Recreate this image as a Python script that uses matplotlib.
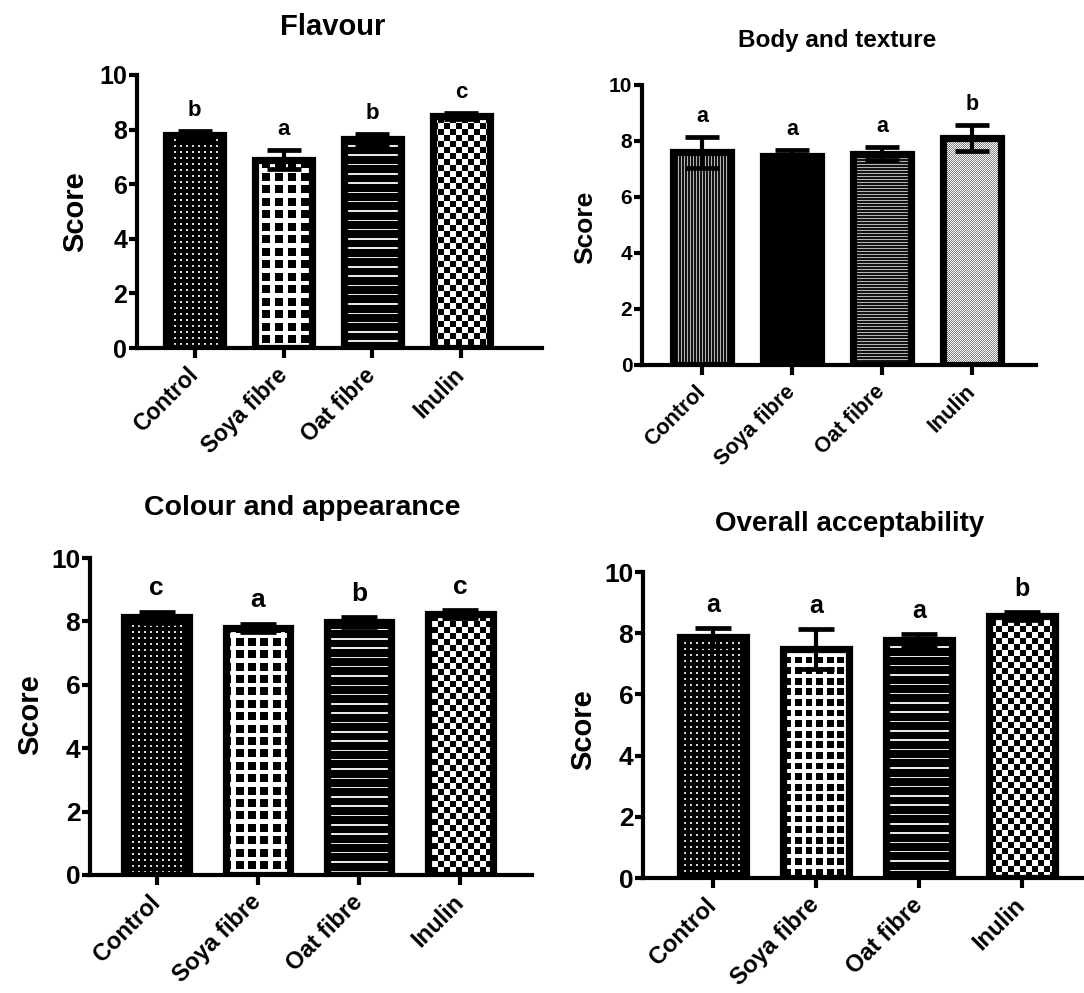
import numpy as np
import matplotlib
matplotlib.use('Agg')
import matplotlib.pyplot as plt

plt.rcParams['font.family'] = ['Liberation Sans', 'DejaVu Sans']
plt.rcParams['font.weight'] = 'bold'

# ---------------- data ----------------
categories = ['Control', 'Soya fibre', 'Oat fibre', 'Inulin']
y_ticks = [0, 2, 4, 6, 8, 10]

flavour_mean = [7.8, 6.9, 7.65, 8.5]
flavour_err = [0.15, 0.35, 0.2, 0.1]
flavour_letters = ['b', 'a', 'b', 'c']

body_mean = [7.6, 7.47, 7.55, 8.1]
body_err = [0.55, 0.2, 0.22, 0.47]
body_letters = ['a', 'a', 'a', 'b']

colour_mean = [8.13, 7.79, 7.97, 8.23]
colour_err = [0.17, 0.14, 0.16, 0.12]
colour_letters = ['c', 'a', 'b', 'c']

overall_mean = [7.87, 7.48, 7.77, 8.56]
overall_err = [0.3, 0.65, 0.2, 0.13]
overall_letters = ['a', 'a', 'a', 'b']

W, H = 1084, 993
DPI = 100
fig = plt.figure(figsize=(W / DPI, H / DPI), dpi=DPI)


def make_pattern(kind, X, Y, period):
    if kind == 'dots':
        m = (np.mod(X, 6) < 1.6) & (np.mod(Y, 6) < 1.6)
        return np.where(m, 0.85, 0.0)
    if kind == 'grid':
        m = (np.mod(X, period) < period * 0.64) & (np.mod(Y, period) < period * 0.64)
        return np.where(m, 0.0, 1.0)
    if kind == 'hlines':
        return np.where(np.mod(Y, 9.3) < 1.5, 0.9, 0.0)
    if kind == 'checker':
        return np.where((np.floor(X / 6) + np.floor(Y / 6)) % 2 == 0, 0.0, 1.0)
    if kind == 'vfine':
        return np.where(np.mod(np.floor(X), 3) == 0, 0.7, 0.08)
    if kind == 'hfine':
        return np.where(np.mod(np.floor(Y), 3) == 0, 0.7, 0.08)
    if kind == 'solid':
        return np.zeros_like(X)
    if kind == 'lightdots':
        return np.where((np.floor(X) + np.floor(Y)) % 2 == 0, 1.0, 0.5)
    return np.ones_like(X)


panels = [
    dict(title='Flavour', mean=flavour_mean, err=flavour_err, letters=flavour_letters,
         rect=(137, 75, 542, 348), xlim=(-0.65, 3.91), title_xy=(333, 27), title_fs=21,
         tick_fs=18, xtick_fs=16.5, label_fs=21, letter_fs=16, score_xy=(75, 212),
         patterns=['dots', 'grid', 'hlines', 'checker'], grid_p=12.5, capsize=12),
    dict(title='Body and texture', mean=body_mean, err=body_err, letters=body_letters,
         rect=(642, 85, 1036, 365), xlim=(-0.67, 3.71), title_xy=(837, 40), title_fs=17.5,
         tick_fs=15, xtick_fs=15.5, label_fs=19, letter_fs=15.5, score_xy=(585, 227),
         patterns=['vfine', 'solid', 'hfine', 'lightdots'], grid_p=12.5, capsize=12),
    dict(title='Colour and appearance', mean=colour_mean, err=colour_err, letters=colour_letters,
         rect=(90, 558, 532, 875), xlim=(-0.66, 3.71), title_xy=(302, 508), title_fs=20.5,
         tick_fs=19, xtick_fs=17, label_fs=21, letter_fs=19, score_xy=(30, 715),
         patterns=['dots', 'grid', 'hlines', 'checker'], grid_p=12.4, capsize=13),
    dict(title='Overall acceptability', mean=overall_mean, err=overall_err, letters=overall_letters,
         rect=(643, 572, 1099, 878), xlim=(-0.68, 3.75), title_xy=(850, 524), title_fs=20,
         tick_fs=19, xtick_fs=17, label_fs=21, letter_fs=18, score_xy=(583, 730),
         patterns=['dots', 'grid', 'hlines', 'checker'], grid_p=10.6, capsize=13),
]

bar_w = 0.64

for p in panels:
    l, t, r, b = p['rect']
    ax = fig.add_axes([l / W, 1 - b / H, (r - l) / W, (b - t) / H])
    ax.set_xlim(*p['xlim'])
    ax.set_ylim(0, 10)
    ax.set_autoscale_on(False)
    x = np.arange(len(categories))

    # pattern fills (drawn as images exactly covering each bar)
    inv = ax.transData.inverted()
    for xi, val, kind in zip(x, p['mean'], p['patterns']):
        (x0p, y0p), (x1p, y1p) = ax.transData.transform([[xi - bar_w / 2, 0], [xi + bar_w / 2, val]])
        ix0, ix1 = int(np.floor(x0p)), int(np.ceil(x1p))
        iy0, iy1 = int(np.floor(y0p)), int(np.ceil(y1p))
        X, Y = np.meshgrid(np.arange(ix0, ix1) + 0.5, np.arange(iy1, iy0, -1) - 0.5)
        arr = make_pattern(kind, X, Y, p['grid_p'])
        (dx0, dy0), (dx1, dy1) = inv.transform([[ix0, iy0], [ix1, iy1]])
        ax.imshow(arr, cmap='gray', vmin=0, vmax=1, extent=(dx0, dx1, max(dy0, 0), dy1),
                  origin='upper', interpolation='nearest', aspect='auto', zorder=1)

    ax.bar(x, p['mean'], width=bar_w, facecolor='none', edgecolor='black',
           linewidth=5.2, zorder=3)
    ax.errorbar(x, p['mean'], yerr=p['err'], fmt='none', ecolor='black',
                elinewidth=3, capsize=p['capsize'], capthick=3.4, zorder=4)
    for xi, m, e, s in zip(x, p['mean'], p['err'], p['letters']):
        ax.text(xi, m + e + 0.36, s, ha='center', va='bottom', fontsize=p['letter_fs'],
                fontweight='bold', zorder=5, clip_on=False)

    ax.set_xlim(*p['xlim'])
    ax.set_ylim(0, 10)
    for sp in ['top', 'right']:
        ax.spines[sp].set_visible(False)
    for sp in ['left', 'bottom']:
        ax.spines[sp].set_linewidth(3)
        ax.spines[sp].set_capstyle('projecting')
    ax.set_yticks(y_ticks)
    ax.set_yticklabels([str(v) for v in y_ticks], fontsize=p['tick_fs'], fontweight='bold')
    ax.set_xticks(x)
    ax.set_xticklabels(categories, rotation=45, ha='right', va='center',
                       rotation_mode='anchor', fontsize=p['xtick_fs'], fontweight='bold')
    ax.tick_params(axis='y', width=3, length=6, pad=1)
    ax.tick_params(axis='x', width=3, length=7, pad=10)

    sx, sy = p['score_xy']
    fig.text(sx / W, 1 - sy / H, 'Score', rotation=90, ha='center', va='center',
             fontsize=p['label_fs'], fontweight='bold')
    tx, ty = p['title_xy']
    fig.text(tx / W, 1 - ty / H, p['title'], ha='center', va='center',
             fontsize=p['title_fs'], fontweight='bold')

fig.savefig('out.png', dpi=DPI)
